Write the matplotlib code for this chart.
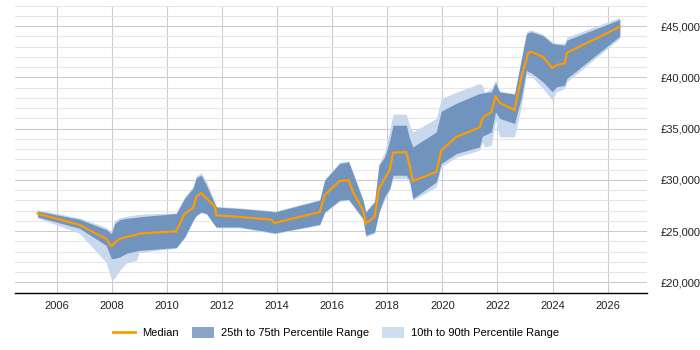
import matplotlib
matplotlib.use("Agg")
import matplotlib.pyplot as plt
from matplotlib.patches import Patch
from matplotlib.lines import Line2D
from matplotlib.ticker import FuncFormatter, MultipleLocator

# salary percentiles over time
years = [2005.31, 2006.83, 2007.80, 2007.99, 2008.11, 2008.29, 2008.53, 2008.90, 2009.00,
         2010.34, 2010.65, 2010.95, 2011.07, 2011.25, 2011.44, 2011.74, 2011.80, 2012.64,
         2013.79, 2013.91, 2015.55, 2015.73, 2016.27, 2016.60, 2016.76, 2017.12, 2017.22,
         2017.54, 2017.70, 2017.91, 2018.09, 2018.21, 2018.69, 2018.81, 2018.93, 2019.78,
         2019.96, 2020.51, 2021.35, 2021.45, 2021.54, 2021.78, 2021.93, 2022.08, 2022.62,
         2022.87, 2023.05, 2023.11, 2023.23, 2023.65, 2023.99, 2024.14, 2024.44, 2024.52,
         2026.44]
median = [26710, 25610, 24250, 23510, 23860, 24250, 24420, 24640, 24760,
          24980, 26710, 27230, 28330, 28720, 28200, 27420, 26540, 26380,
          26120, 25790, 26860, 28500, 29890, 29960, 28820, 27030, 25730,
          26380, 29150, 30160, 30940, 32650, 32720, 31430, 29890, 30770,
          32890, 34190, 35110, 35990, 36210, 36630, 38160, 37510, 36800,
          40050, 41680, 42390, 42490, 42000, 40900, 41190, 41360, 42390,
          44930]
p25 = [26380, 25270, 23610, 22310, 22340, 22470, 22830, 23060, 23120,
       23390, 24420, 26050, 26540, 26860, 26710, 25570, 25400, 25400,
       24880, 24810, 25660, 26860, 28010, 28080, 27520, 26220, 24590,
       24910, 26860, 28400, 29150, 30450, 30450, 29960, 28170, 29790,
       31590, 32570, 33210, 34260, 34360, 34680, 36630, 35990, 35500,
       38070, 40700, 40550, 40440, 39560, 38600, 39070, 39240, 39890,
       44020]
p75 = [26960, 26150, 25150, 24760, 25730, 26120, 26250, 26350, 26400,
       26710, 28200, 29180, 30220, 30450, 29470, 27690, 27350, 27200,
       26930, 26860, 28010, 29960, 31590, 31750, 30610, 28010, 26860,
       27840, 31430, 32240, 33870, 35330, 35330, 34060, 33210, 34680,
       36700, 37480, 38430, 38460, 38510, 38580, 39460, 38580, 38360,
       41780, 44220, 44350, 44440, 44070, 43310, 43240, 43140, 43630,
       45650]
p10 = [26300, 24780, 21950, 20260, 20390, 21170, 21880, 22150, 22930,
       23320, 24350, 25910, 26450, 26790, 26640, 25520, 25320, 25320,
       24800, 24740, 25570, 26790, 27910, 28010, 27420, 26100, 24420,
       24780, 26740, 28100, 28980, 30130, 30130, 29670, 28010, 29310,
       31260, 32210, 32890, 33670, 33180, 33380, 35820, 34190, 34190,
       37190, 40310, 40200, 40120, 38920, 37770, 38580, 38920, 39560,
       43800]
p90 = [27080, 26300, 25370, 25010, 26050, 26300, 26440, 26590, 26640,
       26790, 28350, 29370, 30350, 30690, 29860, 27810, 27420, 27270,
       27000, 26930, 28100, 30110, 31720, 31860, 30740, 28100, 26980,
       28010, 31620, 32700, 34840, 36410, 36410, 35330, 34680, 35990,
       37940, 38550, 39400, 39240, 38550, 38920, 39730, 38650, 38430,
       41970, 44410, 44550, 44610, 44220, 43440, 43340, 43340, 43930,
       45850]

DARK = "#7194be"
LIGHT = "#c9d9ed"
ORANGE = "#ff9a00"

plt.rcParams["font.family"] = ["Liberation Sans", "DejaVu Sans"]

fig = plt.figure(figsize=(7, 3.5), dpi=100)
ax = fig.add_axes([0.021, 0.164, 0.903, 0.82])

ax.fill_between(years, p10, p90, color=LIGHT, linewidth=0, zorder=2)
ax.fill_between(years, p25, p75, color=DARK, linewidth=0, zorder=3)
ax.plot(years, median, color=ORANGE, linewidth=1.6, zorder=4)

ax.set_xlim(2004.48, 2027.42)
ax.set_ylim(19000, 47000)

ax.xaxis.set_major_locator(MultipleLocator(2))
ax.yaxis.set_major_locator(MultipleLocator(5000))
ax.yaxis.set_minor_locator(MultipleLocator(1000))
ax.yaxis.set_major_formatter(FuncFormatter(lambda v, p: f"£{int(v):,}"))
ax.yaxis.tick_right()

ax.grid(True, which="major", axis="both", color="#cccccc", linewidth=0.8, zorder=0)
ax.grid(True, which="minor", axis="y", color="#e6e6e6", linewidth=0.8, zorder=0)
ax.set_axisbelow(True)

for s in ["top", "right", "left"]:
    ax.spines[s].set_visible(False)
ax.spines["bottom"].set_color("black")
ax.spines["bottom"].set_linewidth(1.0)

ax.tick_params(axis="both", which="both", length=0, labelsize=8, colors="#222222")
ax.tick_params(axis="x", pad=6)
ax.tick_params(axis="y", pad=10)

handles = [
    Line2D([0], [0], color=ORANGE, linewidth=2),
    Patch(facecolor="#88a5c8", edgecolor="none"),
    Patch(facecolor="#cfdeef", edgecolor="none"),
]
labels = ["Median", "25th to 75th Percentile Range", "10th to 90th Percentile Range"]
fig.legend(handles, labels, loc="center", bbox_to_anchor=(0.48, 0.05), ncol=3,
           frameon=False, fontsize=8, handlelength=2.0, handleheight=1.1,
           columnspacing=1.2, handletextpad=0.6)

fig.savefig("out.png", dpi=100)
